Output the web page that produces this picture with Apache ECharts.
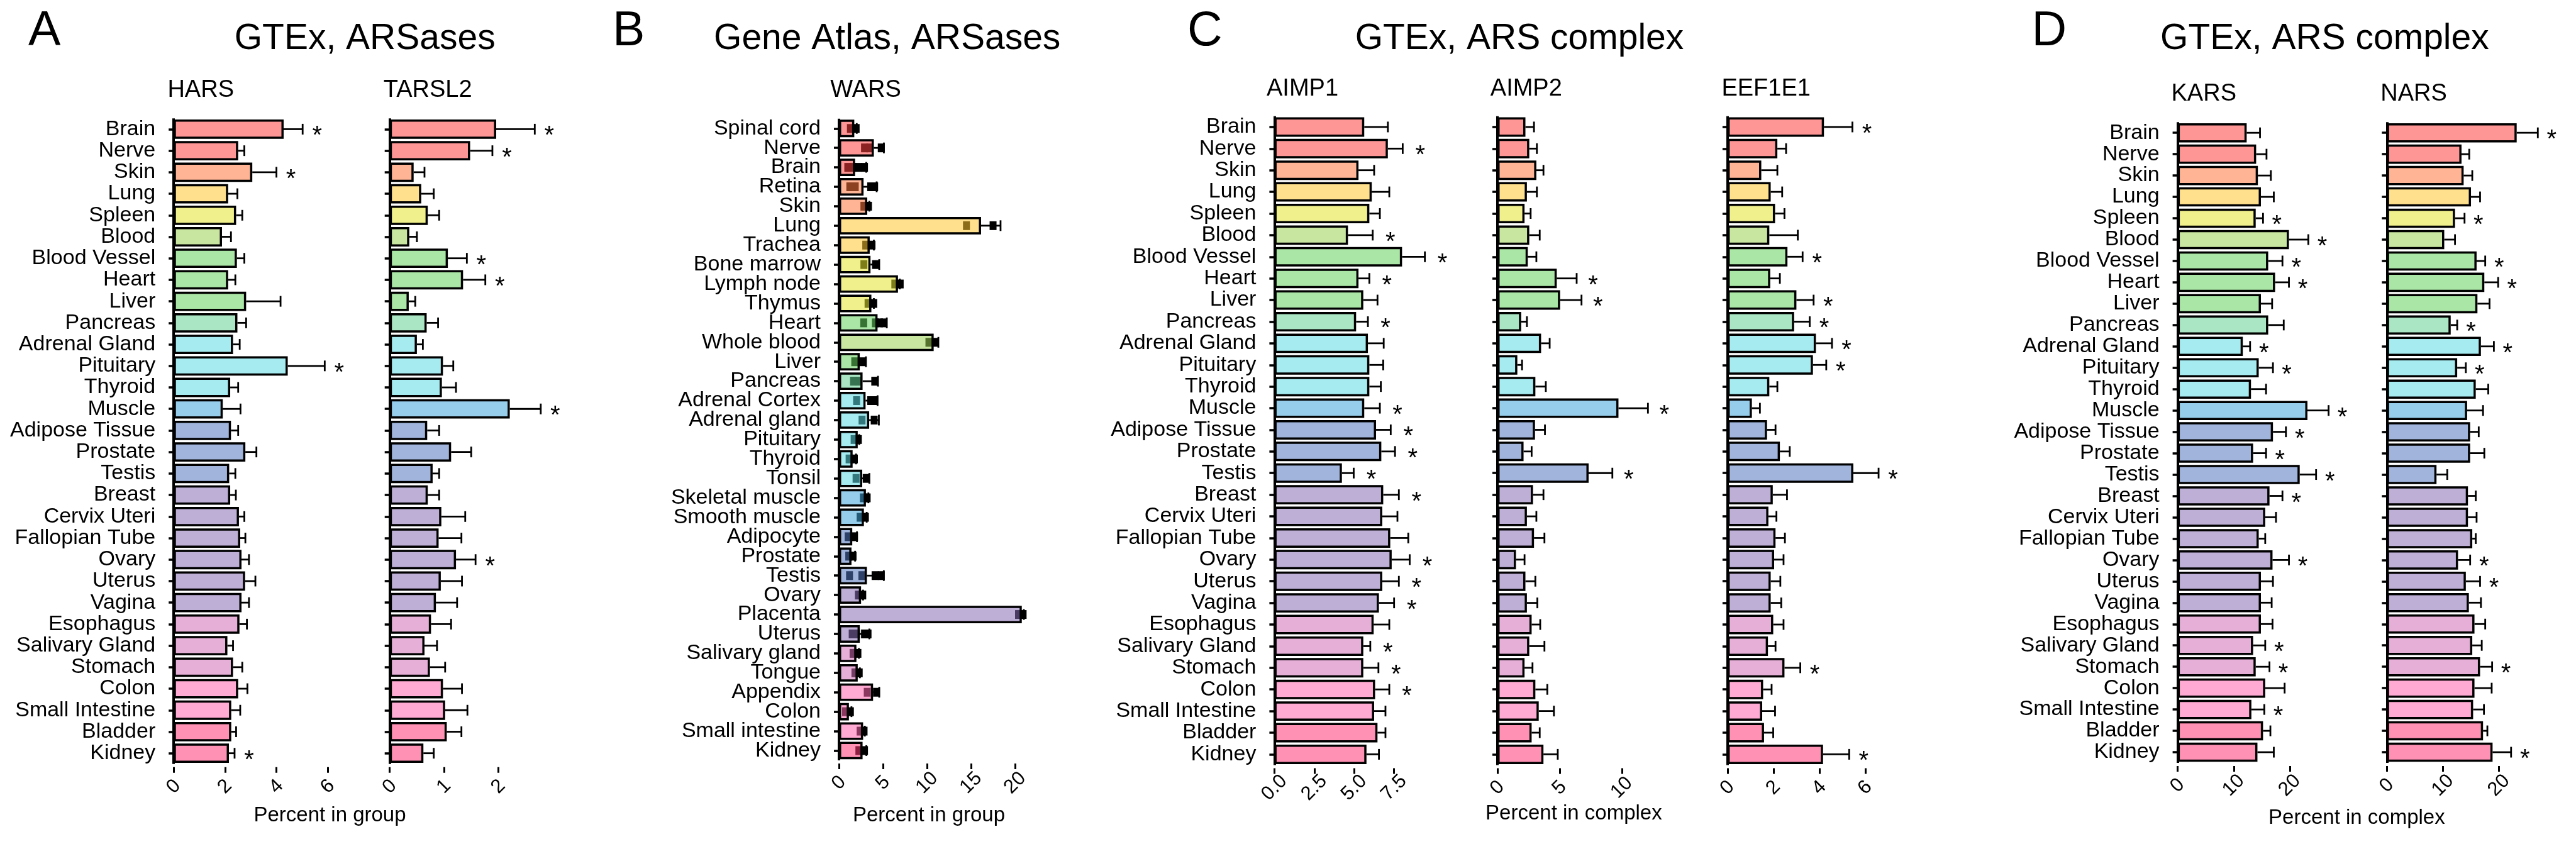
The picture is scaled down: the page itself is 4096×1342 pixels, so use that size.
<!DOCTYPE html>
<html>
<head>
<meta charset="utf-8">
<script src="https://cdn.jsdelivr.net/npm/echarts@6/dist/echarts.min.js"></script>
<style>html,body{margin:0;padding:0;background:#fff}#chart{width:4096px;height:1342px}</style>
</head>
<body>
<div id="chart"></div>
<script>
// ---------------- DATA ----------------
const gtexTissues = ['Brain','Nerve','Skin','Lung','Spleen','Blood','Blood Vessel','Heart','Liver','Pancreas','Adrenal Gland','Pituitary','Thyroid','Muscle','Adipose Tissue','Prostate','Testis','Breast','Cervix Uteri','Fallopian Tube','Ovary','Uterus','Vagina','Esophagus','Salivary Gland','Stomach','Colon','Small Intestine','Bladder','Kidney'];
const atlasTissues = ['Spinal cord','Nerve','Brain','Retina','Skin','Lung','Trachea','Bone marrow','Lymph node','Thymus','Heart','Whole blood','Liver','Pancreas','Adrenal Cortex','Adrenal gland','Pituitary','Thyroid','Tonsil','Skeletal muscle','Smooth muscle','Adipocyte','Prostate','Testis','Ovary','Placenta','Uterus','Salivary gland','Tongue','Appendix','Colon','Small intestine','Kidney'];

const harsMean  = [4.28,2.51,3.06,2.12,2.43,1.88,2.46,2.12,2.82,2.48,2.31,4.44,2.20,1.91,2.23,2.79,2.16,2.20,2.54,2.59,2.64,2.78,2.64,2.56,2.09,2.31,2.51,2.24,2.24,2.15];
const harsUpper = [5.02,2.75,4.00,2.48,2.67,2.23,2.75,2.40,4.16,2.82,2.57,5.88,2.51,2.60,2.51,3.22,2.40,2.42,2.75,2.79,2.93,3.18,2.93,2.85,2.31,2.67,2.87,2.59,2.43,2.37];
const harsSig   = ['Brain','Skin','Pituitary','Kidney'];

const tarsMean  = [1.96,1.48,0.44,0.58,0.70,0.36,1.07,1.35,0.35,0.68,0.50,0.98,0.96,2.21,0.69,1.13,0.79,0.70,0.95,0.90,1.22,0.94,0.85,0.76,0.64,0.74,0.98,1.02,1.05,0.62];
const tarsUpper = [2.67,1.89,0.64,0.81,0.91,0.50,1.42,1.76,0.47,0.89,0.61,1.17,1.22,2.78,0.91,1.50,0.91,0.91,1.39,1.32,1.58,1.33,1.24,1.13,0.87,1.02,1.33,1.43,1.32,0.81];
const tarsSig   = ['Brain','Nerve','Blood Vessel','Heart','Muscle','Ovary'];

const warsMean  = [1.74,3.96,1.83,2.79,3.21,16.13,3.49,3.58,6.70,3.68,4.38,10.75,2.36,2.68,3.02,3.43,2.13,1.55,2.64,3.06,2.83,1.51,1.42,3.17,2.51,20.75,2.36,1.98,2.13,3.87,1.13,2.74,2.68];
const warsUpper = [2.02,5.10,3.10,4.28,3.45,18.34,3.96,4.57,6.90,3.96,5.43,11.28,3.06,4.43,4.38,4.53,2.30,1.94,3.45,3.34,3.15,2.04,1.83,5.09,2.74,20.98,3.45,2.26,2.38,4.57,1.42,2.94,3.11];
const warsPoints = [[1.30,1.95],[2.9,3.5,4.8],[1.0,1.6,2.2,2.9],[1.23,1.85,3.6,4.05],[2.83,3.35],[14.47,17.49],[3.04,3.75],[2.83,4.15],[6.34,6.95],[3.30,3.95],[2.81,4.13,4.6,5.1],[10.21,10.92],[1.79,2.75],[1.65,2.25,4.06],[2.0,3.6,4.05],[2.62,4.0],[1.72,2.2],[1.15,1.75],[1.94,3.09],[2.77,3.2],[2.4,3.0],[1.04,1.77],[1.11,1.6],[1.2,2.6,4.1,4.8],[2.2,2.7],[20.38,20.9],[1.5,2.0,2.9,3.3],[1.6,2.15],[1.81,2.3],[3.21,4.26],[0.75,1.3],[2.4,2.85],[2.26,2.9]];

const aimp1Mean  = [5.63,7.11,5.27,6.10,5.95,4.61,8.00,5.27,5.57,5.12,5.86,5.95,5.95,5.63,6.37,6.70,4.23,6.82,6.76,7.26,7.35,6.76,6.55,6.22,5.57,5.57,6.31,6.25,6.46,5.77];
const aimp1Upper = [7.11,8.04,6.25,7.20,6.61,6.16,9.43,5.95,6.46,5.86,6.85,6.82,6.67,6.61,7.29,7.56,4.97,7.80,7.71,8.39,8.48,7.80,7.50,7.20,6.01,6.52,7.20,6.96,6.96,6.55];
const aimp1Sig   = ['Nerve','Blood','Blood Vessel','Heart','Pancreas','Muscle','Adipose Tissue','Prostate','Testis','Breast','Ovary','Uterus','Vagina','Salivary Gland','Stomach','Colon'];

const aimp2Mean  = [2.25,2.56,3.13,2.37,2.18,2.56,2.44,4.77,5.04,1.91,3.51,1.60,3.05,9.73,3.02,2.10,7.33,2.86,2.37,2.94,1.49,2.25,2.37,2.75,2.56,2.18,3.05,3.32,2.75,3.70];
const aimp2Upper = [2.94,3.17,3.70,3.17,2.67,3.40,3.13,6.37,6.76,2.37,4.20,1.98,3.89,12.10,3.82,2.75,9.24,3.70,3.13,3.78,2.18,3.05,3.21,3.44,3.78,2.82,4.01,4.54,3.40,4.85];
const aimp2Sig   = ['Heart','Liver','Muscle','Testis'];

const eefMean  = [4.20,2.17,1.47,1.88,2.07,1.82,2.61,1.86,3.00,2.90,3.85,3.72,1.82,1.06,1.72,2.28,5.48,1.97,1.78,2.09,2.03,1.88,1.88,1.99,1.76,2.48,1.55,1.51,1.59,4.16];
const eefUpper = [5.44,2.55,2.17,2.38,2.48,3.06,3.27,2.28,3.75,3.58,4.55,4.30,2.17,1.41,2.09,2.71,6.58,2.59,2.13,2.50,2.44,2.30,2.34,2.44,2.09,3.17,1.92,2.07,1.99,5.30];
const eefSig   = ['Brain','Blood Vessel','Liver','Pancreas','Adrenal Gland','Pituitary','Testis','Stomach','Kidney'];

const karsMean  = [12.31,14.00,14.31,14.85,13.92,19.85,16.15,17.38,14.85,16.15,11.62,14.46,13.08,23.15,17.00,13.46,21.77,16.38,15.62,14.46,16.92,14.85,14.85,14.85,13.46,13.92,15.62,13.15,15.23,14.23];
const karsUpper = [14.69,15.85,16.62,17.15,15.23,23.31,18.69,19.85,16.85,18.92,12.92,17.00,15.77,26.92,19.31,15.77,24.69,18.69,17.54,15.62,19.85,17.00,16.77,16.92,15.62,16.38,19.08,15.46,16.54,17.15];
const karsSig   = ['Spleen','Blood','Blood Vessel','Heart','Adrenal Gland','Pituitary','Muscle','Adipose Tissue','Prostate','Testis','Breast','Ovary','Salivary Gland','Stomach','Small Intestine'];

const narsMean  = [23.15,13.31,13.69,15.00,12.15,10.23,16.00,17.38,16.15,11.38,16.77,12.54,15.85,14.31,14.85,14.85,8.85,14.46,14.46,15.23,12.69,14.08,14.62,15.62,15.23,16.62,15.62,15.38,17.15,18.85];
const narsUpper = [26.92,14.69,15.23,16.62,13.85,12.15,17.54,19.85,18.31,12.54,19.08,14.08,18.08,17.15,16.38,17.38,10.77,15.85,16.00,15.85,14.85,16.62,16.77,17.54,16.92,18.77,18.69,17.31,17.92,22.15];
const narsSig   = ['Brain','Spleen','Blood Vessel','Heart','Pancreas','Adrenal Gland','Pituitary','Ovary','Uterus','Stomach','Kidney'];

const harsTicks  = [0,2,4,6];
const tarsTicks  = [0,1,2];
const warsTicks  = [0,5,10,15,20];
const aimp1Ticks = [0,2.5,5,7.5];
const aimp2Ticks = [0,5,10];
const eefTicks   = [0,2,4,6];
const karsTicks  = [0,10,20];
const narsTicks  = [0,10,20];

// ---------------- STYLE ----------------
const gtexColors = ['#FF9696','#FF9696','#FFB496','#FFE08C','#F0F08C','#C8E6A0','#AAE6A5','#AAE6A5','#AAE6A5','#AAE6C3','#A5EBF0','#A5EBF0','#A5EBF0','#96CDEB','#A0B4DC','#A0B4DC','#A0B4DC','#BEAFD7','#BEAFD7','#BEAFD7','#BEAFD7','#BEAFD7','#BEAFD7','#E6AFD7','#E6AFD7','#E6AFD7','#FFAAD2','#FFAAD2','#FF91B4','#FF91B4'];
const atlasColors = ['#FF9696','#FF9696','#FF9696','#FFB496','#FFB496','#FFE08C','#FFE08C','#F0F08C','#F0F08C','#F0F08C','#AAE6A5','#C8E6A0','#AAE6A5','#AAE6C3','#A5EBF0','#A5EBF0','#A5EBF0','#A5EBF0','#A5EBF0','#96CDEB','#96CDEB','#A0B4DC','#A0B4DC','#A0B4DC','#BEAFD7','#BEAFD7','#BEAFD7','#E6AFD7','#E6AFD7','#FFAAD2','#FFAAD2','#FFAAD2','#FF91B4'];
const FF = '"Liberation Sans", Arial, Helvetica, sans-serif';
const ALPHA = 0.55;
function translucent(hex){
  const c=[1,3,5].map(i=>parseInt(hex.slice(i,i+2),16));
  const f=v=>Math.round(Math.max(0,(v-255*(1-ALPHA))/ALPHA));
  return `rgba(${f(c[0])},${f(c[1])},${f(c[2])},${ALPHA})`;
}

const A={top:188.3,height:1026.5}, B={top:188.8,height:1020.1}, C={top:184.7,height:1031.9}, D={top:194.2,height:1018.8};
const panels = [
  {cats:gtexTissues, colors:gtexColors, mean:harsMean, upper:harsUpper, sig:harsSig, ticks:harsTicks, left:276.2, unit:40.84, max:7, g:A, labels:true, dec:0, ast:23},
  {cats:gtexTissues, colors:gtexColors, mean:tarsMean, upper:tarsUpper, sig:tarsSig, ticks:tarsTicks, left:619.7, unit:86.37, max:3.1, g:A, labels:false, dec:0, ast:23},
  {cats:atlasTissues, colors:atlasColors, mean:warsMean, upper:warsUpper, sig:[], ticks:warsTicks, pts:warsPoints, left:1334.0, unit:14.01, max:23, g:B, labels:true, dec:0, ast:23},
  {cats:gtexTissues, colors:gtexColors, mean:aimp1Mean, upper:aimp1Upper, sig:aimp1Sig, ticks:aimp1Ticks, left:2026.4, unit:25.37, max:10, g:C, labels:true, dec:1, ast:28},
  {cats:gtexTissues, colors:gtexColors, mean:aimp2Mean, upper:aimp2Upper, sig:aimp2Sig, ticks:aimp2Ticks, left:2381.0, unit:19.78, max:14, g:C, labels:false, dec:0, ast:26},
  {cats:gtexTissues, colors:gtexColors, mean:eefMean, upper:eefUpper, sig:eefSig, ticks:eefTicks, left:2746.9, unit:36.50, max:7.5, g:C, labels:false, dec:0, ast:23},
  {cats:gtexTissues, colors:gtexColors, mean:karsMean, upper:karsUpper, sig:karsSig, ticks:karsTicks, left:3462.6, unit:8.915, max:30, g:D, labels:true, dec:0, ast:22},
  {cats:gtexTissues, colors:gtexColors, mean:narsMean, upper:narsUpper, sig:narsSig, ticks:narsTicks, left:3795.3, unit:8.915, max:30, g:D, labels:false, dec:0, ast:22}
];

const texts = [
  {t:'A', x:45, y:51, fs:77, al:'left'}, {t:'B', x:974, y:51, fs:77, al:'left'},
  {t:'C', x:1888, y:51, fs:77, al:'left'}, {t:'D', x:3230.5, y:51, fs:77, al:'left'},
  {t:'GTEx, ARSases', x:580.2, y:62, fs:57, al:'center'},
  {t:'Gene Atlas, ARSases', x:1410.7, y:62, fs:57, al:'center'},
  {t:'GTEx, ARS complex', x:2416, y:62, fs:57, al:'center'},
  {t:'GTEx, ARS complex', x:3696.4, y:62, fs:57, al:'center'},
  {t:'HARS', x:266.4, y:143.3, fs:38, al:'left'}, {t:'TARSL2', x:609.8, y:143.3, fs:38, al:'left'},
  {t:'WARS', x:1320.2, y:143.3, fs:38, al:'left'},
  {t:'AIMP1', x:2014, y:141.8, fs:38, al:'left'}, {t:'AIMP2', x:2369.8, y:141.8, fs:38, al:'left'},
  {t:'EEF1E1', x:2737.4, y:141.8, fs:38, al:'left'},
  {t:'KARS', x:3452.5, y:149.2, fs:38, al:'left'}, {t:'NARS', x:3785.2, y:149.2, fs:38, al:'left'},
  {t:'Percent in group', x:524.5, y:1296.5, fs:33, al:'center'},
  {t:'Percent in group', x:1477, y:1296.5, fs:33, al:'center'},
  {t:'Percent in complex', x:2502.4, y:1293.6, fs:33, al:'center'},
  {t:'Percent in complex', x:3747.4, y:1301.4, fs:33, al:'center'}
];

// ---------------- BUILD ----------------
const grid=[], xAxis=[], yAxis=[], series=[];
panels.forEach((p,i)=>{
  grid.push({left:p.left, top:p.g.top, width:p.unit*p.max, height:p.g.height, containLabel:false});
  xAxis.push({
    gridIndex:i, type:'value', min:0, max:p.max, offset:5,
    axisLine:{show:false}, splitLine:{show:false},
    axisTick:{show:true, length:9, lineStyle:{color:'#000', width:3}, customValues:p.ticks},
    axisLabel:{show:true, customValues:p.ticks, rotate:45, align:'center', verticalAlign:'middle', margin:31,
      fontSize:31, fontFamily:FF, color:'#000', formatter:v=>Number(v).toFixed(p.dec)}
  });
  yAxis.push({
    gridIndex:i, type:'category', data:p.cats, inverse:true, offset:12,
    axisLine:{show:false}, splitLine:{show:false},
    axisTick:{show:true, alignWithLabel:true, length:8, lineStyle:{color:'#000', width:3.5}},
    axisLabel:{show:p.labels, interval:0, margin:17, fontSize:34, fontFamily:FF, color:'#000'}
  });
  const hasPts = !!p.pts;
  series.push({
    type:'bar', xAxisIndex:i, yAxisIndex:i, z:3, barCategoryGap:'10%',
    data:p.mean.map((v,k)=>({value:v, itemStyle:{color: hasPts ? translucent(p.colors[k]) : p.colors[k]}})),
    itemStyle:{borderColor:'#000', borderWidth:3.5},
    emphasis:{disabled:true},
    markLine:{silent:true, symbol:'none', label:{show:false}, animation:false,
      lineStyle:{color:'#000', width:4, type:'solid'}, data:[{xAxis:0}]}
  });
  if (hasPts) {
    series.push({
      type:'scatter', xAxisIndex:i, yAxisIndex:i, z:2, symbol:'rect', symbolSize:[11,14],
      itemStyle:{color:'#000', opacity:1},
      data:p.pts.flatMap((arr,k)=>arr.map(v=>[v,k]))
    });
  }
  series.push({
    type:'custom', xAxisIndex:i, yAxisIndex:i, z:5, clip:false,
    encode:{x:[0,1], y:2},
    data:p.cats.map((c,k)=>[p.mean[k], p.upper[k], k, p.sig.includes(c)?1:0]),
    renderItem:(params, api)=>{
      const m=api.coord([api.value(0), api.value(2)]);
      const e=api.coord([api.value(1), api.value(2)]);
      const ch=[
        {type:'line', shape:{x1:m[0], y1:m[1], x2:e[0], y2:e[1]}, style:{stroke:'#000', lineWidth:2.8}},
        {type:'line', shape:{x1:e[0], y1:e[1]-8.5, x2:e[0], y2:e[1]+8.5}, style:{stroke:'#000', lineWidth:2.8}}
      ];
      if (api.value(3)) ch.push({type:'text', style:{text:'*', x:e[0]+p.ast, y:e[1]+12, fill:'#000',
        font:'40px '+FF, align:'center', verticalAlign:'middle', textAlign:'center', textVerticalAlign:'middle'}});
      return {type:'group', children:ch};
    }
  });
});

const graphic = texts.map(o=>({type:'text', x:o.x, y:o.y, silent:true,
  style:{text:o.t, fill:'#000', font:o.fs+'px '+FF, align:o.al, verticalAlign:'middle', textAlign:o.al, textVerticalAlign:'middle'}}));

const chart = echarts.init(document.getElementById('chart'), null, {renderer:'canvas'});
chart.setOption({animation:false, backgroundColor:'#fff', grid, xAxis, yAxis, series, graphic});
</script>
</body>
</html>
